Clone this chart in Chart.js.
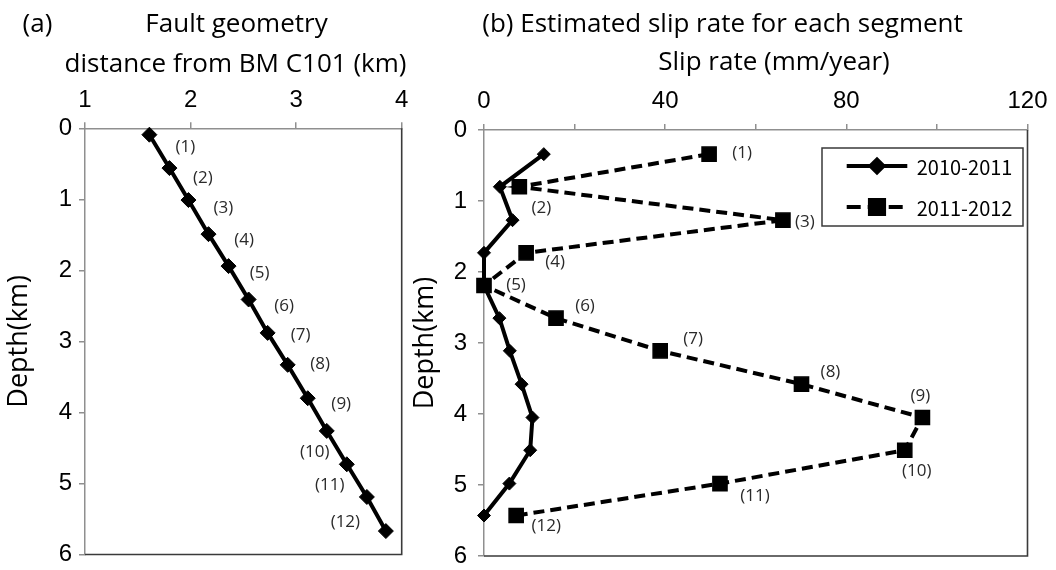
<!DOCTYPE html>
<html><head><meta charset="utf-8">
<script src="https://cdn.jsdelivr.net/npm/chart.js@4"></script>
<style>
html,body{margin:0;padding:0;background:#fff;}
#wrap{position:relative;width:1056px;height:570px;overflow:hidden;background:#fff;}
#a{position:absolute;left:0;top:0;}
#b{position:absolute;left:405px;top:0;}
</style></head><body>
<div id="wrap"><canvas id="a" width="430" height="570"></canvas><canvas id="b" width="651" height="570"></canvas></div>
<script>
// ---- data ----
const faultDistance = [1.61, 1.80, 1.98, 2.17, 2.36, 2.55, 2.73, 2.92, 3.11, 3.29, 3.48, 3.67, 3.85];
const faultDepth    = [0.09, 0.56, 1.01, 1.49, 1.94, 2.41, 2.88, 3.33, 3.80, 4.26, 4.73, 5.19, 5.67];
const segmentLabels = ['(1)','(2)','(3)','(4)','(5)','(6)','(7)','(8)','(9)','(10)','(11)','(12)'];
const segmentDepth  = [0.34, 0.80, 1.27, 1.73, 2.19, 2.65, 3.11, 3.58, 4.05, 4.51, 4.98, 5.43];
const slip2010_2011 = [13.2, 3.5, 6.3, 0, 0, 3.4, 5.7, 8.3, 10.7, 10.2, 5.6, 0];
const slip2011_2012 = [49.7, 7.8, 66.0, 9.3, 0, 15.9, 38.9, 70.1, 96.8, 92.9, 52.1, 7.1];
const seriesNames   = ['2010-2011', '2011-2012'];
const distanceTicks = [1, 2, 3, 4];
const depthTicks    = [0, 1, 2, 3, 4, 5, 6];
const slipTicks     = [0, 20, 40, 60, 80, 100, 120];
const slipTickLabels = ['0', '', '40', '', '80', '', '120'];
const titleA = ['(a)', 'Fault geometry', 'distance from BM C101 (km)'];
const titleB = ['(b) Estimated slip rate for each segment', 'Slip rate (mm/year)'];
const depthTitle = 'Depth(km)';

// ---- styles ----
const TITLE_FONT = '26px "Open Sans"';
const TICK_FONT = {family: 'Liberation Sans', size: 24};
const AXIS_GRAY = '#8f8f8f';
const FRAME = '#3a3a3a';

function noPad(s) { s.paddingLeft = 0; s.paddingRight = 0; s.paddingTop = 0; s.paddingBottom = 0; }

const textPlugin = {
  id: 'panelText',
  afterDraw(chart, args, opts) {
    const ctx = chart.ctx;
    ctx.save();
    (opts.items || []).forEach(t => {
      ctx.font = t.font; ctx.fillStyle = t.color || '#000';
      ctx.textAlign = 'center'; ctx.textBaseline = 'alphabetic';
      ctx.fillText(t.text, t.x, t.y);
    });
    ctx.restore();
  }
};
const framePlugin = {
  id: 'frame',
  beforeDatasetsDraw(chart) {
    const {ctx, chartArea: a} = chart;
    ctx.save();
    ctx.strokeStyle = FRAME; ctx.lineWidth = 1.6;
    ctx.beginPath();
    ctx.moveTo(a.right, a.top); ctx.lineTo(a.right, a.bottom); ctx.lineTo(a.left, a.bottom);
    ctx.stroke();
    ctx.restore();
  }
};
const segLabelPlugin = {
  id: 'segLabels',
  afterDatasetsDraw(chart, args, opts) {
    const ctx = chart.ctx, xs = chart.scales.x, ys = chart.scales.y;
    ctx.save();
    ctx.font = '17px "Open Sans"'; ctx.fillStyle = '#2a2a2a';
    ctx.textAlign = 'center'; ctx.textBaseline = 'middle';
    segmentLabels.forEach((lab, i) => {
      const p = opts.anchor(i);
      const px = xs.getPixelForValue(p.x), py = ys.getPixelForValue(p.y);
      const o = opts.offsets[i];
      ctx.fillText(lab, px + o[0], py + o[1]);
    });
    ctx.restore();
  }
};

function depthAxis(width, pad, titlePad) {
  return {
    type: 'linear', reverse: true, min: 0, max: 6,
    afterBuildTicks: s => { s.ticks = depthTicks.map(v => ({value: v})); },
    ticks: {font: TICK_FONT, color: '#000', padding: pad},
    grid: {drawOnChartArea: false, drawTicks: true, tickLength: 6, color: AXIS_GRAY, lineWidth: 1.5},
    border: {color: AXIS_GRAY, width: 1.5},
    title: {display: true, text: depthTitle, font: {family: 'Open Sans', size: 27}, color: '#000', padding: {top: titlePad, bottom: 0}},
    afterFit: s => { s.width = width; noPad(s); }
  };
}

// ---- panel (a) ----
new Chart(document.getElementById('a'), {
  type: 'scatter',
  data: {datasets: [{
    data: faultDistance.map((v, i) => ({x: v, y: faultDepth[i]})),
    showLine: true, borderColor: '#000', borderWidth: 4,
    pointStyle: 'rectRot', pointRadius: 7.5, pointBackgroundColor: '#000', pointBorderColor: '#000', pointBorderWidth: 1,
    clip: false
  }]},
  options: {
    responsive: false, animation: false, devicePixelRatio: 1,
    layout: {autoPadding: false, padding: {left: 0, top: 0, right: 28.3, bottom: 15.5}},
    scales: {
      x: {
        type: 'linear', position: 'top', min: 1, max: 4,
        afterBuildTicks: s => { s.ticks = distanceTicks.map(v => ({value: v})); },
        ticks: {font: TICK_FONT, color: '#000', padding: 8},
        grid: {drawOnChartArea: false, drawTicks: true, tickLength: 6, color: AXIS_GRAY, lineWidth: 1.5},
        border: {color: AXIS_GRAY, width: 1.5},
        afterFit: s => { s.height = 128.3; noPad(s); }
      },
      y: depthAxis(85, 7, 3)
    },
    plugins: {
      legend: {display: false}, tooltip: {enabled: false},
      panelText: {items: [
        {text: titleA[0], x: 37.5, y: 32, font: TITLE_FONT},
        {text: titleA[1], x: 236.5, y: 32, font: TITLE_FONT},
        {text: titleA[2], x: 235.5, y: 72, font: TITLE_FONT}
      ]},
      segLabels: {
        anchor: i => ({x: (faultDistance[i] + faultDistance[i + 1]) / 2, y: (faultDepth[i] + faultDepth[i + 1]) / 2}),
        offsets: [[26,-4],[24,-6],[25,-9],[25.5,-10],[21,-10],[26,-10],[23,-14],[22.5,-17],[24,-10],[-22,5],[-27,5],[-31,8]]
      }
    }
  },
  plugins: [framePlugin, segLabelPlugin, textPlugin]
});

// ---- panel (b) ----
const legendPlugin = {
  id: 'boxLegend',
  afterDatasetsDraw(chart, args, opts) {
    const ctx = chart.ctx, b = opts.box;
    ctx.save();
    ctx.fillStyle = '#fff'; ctx.fillRect(b.x, b.y, b.w, b.h);
    ctx.strokeStyle = FRAME; ctx.lineWidth = 1.5; ctx.strokeRect(b.x, b.y, b.w, b.h);
    chart.data.datasets.forEach((ds, i) => {
      const y = opts.rows[i];
      ctx.strokeStyle = '#000'; ctx.lineWidth = ds.borderWidth;
      ctx.setLineDash(ds.borderDash ? [14, 7] : []);
      ctx.beginPath(); ctx.moveTo(opts.lineX0, y); ctx.lineTo(opts.lineX1, y); ctx.stroke();
      ctx.setLineDash([]);
      Chart.helpers.drawPoint(ctx, {pointStyle: ds.pointStyle, radius: ds.pointRadius, borderWidth: ds.pointBorderWidth},
        (opts.lineX0 + opts.lineX1) / 2, y);
      ctx.fillStyle = '#000'; ctx.fill();
      ctx.font = '20px "Noto Sans CJK JP"'; ctx.textAlign = 'left'; ctx.textBaseline = 'middle';
      ctx.fillText(ds.label, opts.textX, y + 1);
    });
    ctx.restore();
  }
};

new Chart(document.getElementById('b'), {
  type: 'scatter',
  data: {datasets: [
    {
      label: seriesNames[0],
      data: slip2010_2011.map((v, i) => ({x: v, y: segmentDepth[i]})),
      showLine: true, borderColor: '#000', borderWidth: 4,
      pointStyle: 'rectRot', pointRadius: 6.5, pointBackgroundColor: '#000', pointBorderColor: '#000', pointBorderWidth: 1,
      clip: false
    },
    {
      label: seriesNames[1],
      data: slip2011_2012.map((v, i) => ({x: v, y: segmentDepth[i]})),
      showLine: true, borderColor: '#000', borderWidth: 4, borderDash: [11, 6],
      pointStyle: 'rect', pointRadius: 10, pointBackgroundColor: '#000', pointBorderColor: '#000', pointBorderWidth: 1.5,
      clip: false
    }
  ]},
  options: {
    responsive: false, animation: false, devicePixelRatio: 1,
    layout: {autoPadding: false, padding: {left: 0, top: 0, right: 28.5, bottom: 14}},
    scales: {
      x: {
        type: 'linear', position: 'top', min: 0, max: 120,
        afterBuildTicks: s => { s.ticks = slipTicks.map(v => ({value: v})); },
        ticks: {font: TICK_FONT, color: '#000', padding: 8, callback: (v, i) => slipTickLabels[i]},
        grid: {drawOnChartArea: false, drawTicks: true, tickLength: 6, color: AXIS_GRAY, lineWidth: 1.5},
        border: {color: AXIS_GRAY, width: 1.5},
        afterFit: s => { s.height = 130; noPad(s); }
      },
      y: depthAxis(79, 11, 4)
    },
    plugins: {
      legend: {display: false}, tooltip: {enabled: false},
      panelText: {items: [
        {text: titleB[0], x: 317.5, y: 32, font: TITLE_FONT},
        {text: titleB[1], x: 369, y: 70, font: TITLE_FONT}
      ]},
      segLabels: {
        anchor: i => ({x: slip2011_2012[i], y: segmentDepth[i]}),
        offsets: [[33,-1],[22,21],[22,2],[29,9],[32,0],[29,-12],[33,-12],[29,-12],[-2,-21],[12,21],[35,13],[30,11]]
      },
      boxLegend: {box: {x: 417, y: 148, w: 201, h: 78}, rows: [166, 207], lineX0: 441.7, lineX1: 502.3, textX: 511.7}
    }
  },
  plugins: [framePlugin, segLabelPlugin, legendPlugin, textPlugin]
});
</script>
</body></html>
